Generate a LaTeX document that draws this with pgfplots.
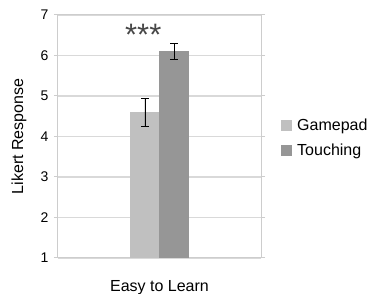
\documentclass[border=0pt]{standalone}
\usepackage{fontspec}
\setmainfont{Liberation Sans}
\usepackage{pgfplots}
\pgfplotsset{compat=1.18}
\definecolor{gp}{RGB}{192,192,192}
\definecolor{tc}{RGB}{150,150,150}
\definecolor{gridc}{RGB}{217,217,217}
\definecolor{axc}{RGB}{205,205,205}
\begin{document}
\begin{tikzpicture}[x=1pt,y=1pt]
\useasboundingbox (0,0) rectangle (370,294);
\begin{axis}[
 at={(58pt,36pt)}, anchor=south west,
 scale only axis, width=203pt, height=243pt,
 ybar=0pt, bar width=29pt,
 xmin=-1, xmax=1, ymin=1, ymax=7,
 xtick={0}, xticklabels={Easy to Learn},
 ytick={1,2,3,4,5,6,7},
 ymajorgrids, grid style={gridc, line width=1.2pt},
 axis line style={axc, line width=1pt},
 major tick style={axc, line width=1pt},
 tick align=outside, major tick length=4pt,
 xtick style={draw=none},
 /pgf/number format/assume math mode=true,
 yticklabel style={font=\fontsize{14}{16}\selectfont, anchor=east, xshift=-2pt},
 xticklabel style={font=\fontsize{16}{18}\selectfont, anchor=center, yshift=-26pt},
 ylabel={Likert Response},
 ylabel style={font=\fontsize{16}{18}\selectfont, at={(-0.192,0.5)}, anchor=center},
 legend style={at={(1,0.494)}, anchor=west, xshift=20pt, draw=none, fill=none,
   font=\fontsize{16}{18}\selectfont, row sep=12pt, inner sep=0pt,
   nodes={inner sep=0pt}},
 legend cell align=left,
 clip=true,
]
\addplot[fill=gp, draw=none,
  legend image code/.code={\fill[gp] (0pt,-5.5pt) rectangle (11pt,5.5pt);},
  error bars/.cd, y dir=both, y explicit,
  error bar style={black, line width=0.8pt},
  error mark options={rotate=90, mark size=4pt, black, line width=0.8pt}]
  coordinates {(0,4.6) +- (0,0.35)};
\addplot[fill=tc, draw=none,
  legend image code/.code={\fill[tc] (0pt,-5.5pt) rectangle (11pt,5.5pt);},
  error bars/.cd, y dir=both, y explicit,
  error bar style={black, line width=0.8pt},
  error mark options={rotate=90, mark size=4pt, black, line width=0.8pt}]
  coordinates {(0,6.1) +- (0,0.2)};
\legend{\hspace{5pt}Gamepad, \hspace{5pt}Touching}
\node[font=\fontsize{31}{31}\selectfont, text=black!72, inner sep=0pt] at (axis cs:-0.16,6.5) {***};
\end{axis}
\end{tikzpicture}
\end{document}
